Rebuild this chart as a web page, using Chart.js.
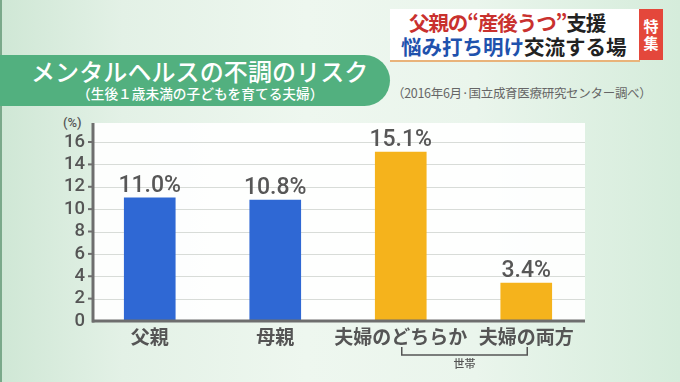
<!DOCTYPE html>
<html lang="ja">
<head>
<meta charset="utf-8">
<script src="https://cdn.jsdelivr.net/npm/chart.js@4/dist/chart.umd.min.js"></script>
<style>
  html, body { margin: 0; padding: 0; }
  body {
    width: 680px; height: 382px; overflow: hidden; position: relative;
    background: linear-gradient(90deg, #cfe7d5 0%, #e3f1e6 18%, #eef7ef 45%, #eaf5ec 70%, #d5ecdb 100%);
    font-family: "Noto Sans CJK JP", sans-serif;
  }
  .edge { position: absolute; left: 0; top: 0; width: 2px; height: 382px; background: #7aa98a; }
  .banner {
    position: absolute; left: 0; top: 55px; width: 390px; height: 51px;
    background: #52b07f; border-radius: 0 26px 26px 0;
  }
  .title {
    position: absolute; left: 31px; top: 53px; color: #fff; font-size: 24px; font-weight: 500;
    white-space: nowrap; line-height: 36px; letter-spacing: 0.1px;
  }
  .subtitle {
    position: absolute; left: 77px; top: 84px; color: #fff; font-size: 13.7px; font-weight: 500;
    white-space: nowrap; line-height: 18px;
  }
  .source {
    position: absolute; left: 392px; top: 85px; color: #666; font-size: 12.5px; white-space: nowrap;
    line-height: 16px; letter-spacing: -0.3px;
  }
  .box {
    position: absolute; left: 390px; top: 9px; width: 250px; height: 51px; background: #fff;
    box-shadow: 0 2px 0 #e9b37a;
  }
  .tag {
    position: absolute; left: 639px; top: 9px; width: 24px; height: 51px; background: #e4473b;
    color: #fff; font-size: 15px; font-weight: 700; line-height: 17px; text-align: center;
    padding-top: 8px; box-sizing: border-box;
  }
  .l1 { position: absolute; left: 409px; top: 8px; font-size: 20.5px; font-weight: 700; white-space: nowrap; line-height: 28px; letter-spacing: -1.1px; }
  .l2 { position: absolute; left: 401px; top: 32px; font-size: 20.5px; font-weight: 700; white-space: nowrap; line-height: 28px; }
  .red { color: #c9312e; } .blue { color: #1f52ad; } .dark { color: #222; }
  .pct { position: absolute; left: 63px; top: 115px; font-size: 13px; color: #555; font-family: Roboto, sans-serif; font-weight: 500; }
  canvas { position: absolute; left: 0; top: 0; }
</style>
</head>
<body>
<div class="edge"></div>
<div class="banner"></div>
<div class="title">メンタルヘルスの不調のリスク</div>
<div class="subtitle">（生後１歳未満の子どもを育てる夫婦）</div>
<div class="source">（2016年6月·国立成育医療研究センター調べ）</div>
<div class="box"></div>
<div class="tag">特<br>集</div>
<div class="l1"><span class="red">父親の“産後うつ”</span><span class="dark">支援</span></div>
<div class="l2"><span class="blue">悩み打ち明け</span><span class="dark">交流する場</span></div>
<div class="pct">(%)</div>
<canvas id="c" width="680" height="382"></canvas>
<script>
const categories = ["父親", "母親", "夫婦のどちらか", "夫婦の両方"];
const values = [11.0, 10.8, 15.1, 3.4];
const valueLabels = ["11.0%", "10.8%", "15.1%", "3.4%"];
const barColors = ["#2f68d4", "#2f68d4", "#f5b31c", "#f5b31c"];
const yTicks = [0, 2, 4, 6, 8, 10, 12, 14, 16];
const groupLabel = "世帯";

const PANEL_L = 94, PANEL_R = 585;

const deco = {
  id: 'deco',
  beforeDatasetsDraw(chart) {
    const { ctx, chartArea, scales } = chart;
    const y = scales.y;
    ctx.save();
    ctx.fillStyle = 'rgba(255,255,255,0.92)';
    ctx.fillRect(PANEL_L, chartArea.top, PANEL_R - PANEL_L, chartArea.bottom - chartArea.top);
    ctx.strokeStyle = '#d8dcd8';
    ctx.lineWidth = 1;
    yTicks.forEach(v => {
      if (v === 0) return;
      const py = Math.round(y.getPixelForValue(v)) + 0.5;
      ctx.beginPath(); ctx.moveTo(PANEL_L, py); ctx.lineTo(PANEL_R, py); ctx.stroke();
    });
    ctx.restore();
  },
  afterDatasetsDraw(chart) {
    const { ctx, chartArea, scales } = chart;
    const y = scales.y, x = scales.x;
    ctx.save();
    ctx.strokeStyle = '#6e6e6e';
    ctx.lineWidth = 3;
    const y0 = y.getPixelForValue(0);
    ctx.beginPath(); ctx.moveTo(PANEL_L - 1, chartArea.top); ctx.lineTo(PANEL_L - 1, y0 + 1.5); ctx.stroke();
    ctx.beginPath(); ctx.moveTo(PANEL_L - 2, y0); ctx.lineTo(PANEL_R, y0); ctx.stroke();
    ctx.lineWidth = 2;
    yTicks.forEach(v => {
      if (v === 0) return;
      const py = y.getPixelForValue(v);
      ctx.beginPath(); ctx.moveTo(PANEL_L - 6, py); ctx.lineTo(PANEL_L, py); ctx.stroke();
    });
    const meta = chart.getDatasetMeta(0);
    ctx.fillStyle = '#575757';
    ctx.font = '500 23px Roboto, "Liberation Sans", sans-serif';
    ctx.textAlign = 'center';
    ctx.textBaseline = 'alphabetic';
    meta.data.forEach((bar, i) => {
      ctx.fillText(valueLabels[i], bar.x, bar.y - 6);
    });
    const xa = x.getPixelForValue(2) + 1, xb = x.getPixelForValue(3) + 1;
    ctx.strokeStyle = '#555';
    ctx.lineWidth = 1.5;
    ctx.beginPath();
    ctx.moveTo(xa, 347); ctx.lineTo(xa, 355); ctx.lineTo(xb, 355); ctx.lineTo(xb, 347);
    ctx.stroke();
    ctx.fillStyle = '#555';
    ctx.font = '500 11px "Noto Sans CJK JP", sans-serif';
    ctx.fillText(groupLabel, (xa + xb) / 2, 368);
    ctx.restore();
  }
};

new Chart(document.getElementById('c'), {
  type: 'bar',
  data: {
    labels: categories,
    datasets: [{
      data: values,
      backgroundColor: barColors,
      borderWidth: 0,
      barThickness: 51
    }]
  },
  options: {
    responsive: false,
    animation: false,
    events: [],
    layout: { padding: { top: 123, right: 91, left: 0, bottom: 0 } },
    plugins: { legend: { display: false }, tooltip: { enabled: false } },
    scales: {
      x: {
        grid: { display: false, drawTicks: false },
        border: { display: false },
        ticks: {
          padding: 4,
          color: '#555',
          font: { family: '"Noto Sans CJK JP", sans-serif', size: 19, weight: 'bold' },
          maxRotation: 0, autoSkip: false
        },
        afterFit(s) { s.height = 61; }
      },
      y: {
        min: 0, max: 17.7,
        grid: { display: false, drawTicks: false },
        border: { display: false },
        ticks: {
          padding: 2,
          color: '#555',
          autoSkip: false,
          font: { family: 'Roboto, "Liberation Sans", sans-serif', size: 18.5, weight: '500' }
        },
        afterBuildTicks(s) { s.ticks = yTicks.map(v => ({ value: v })); },
        afterFit(s) { s.width = 87; }
      }
    }
  },
  plugins: [deco]
});
</script>
</body>
</html>
